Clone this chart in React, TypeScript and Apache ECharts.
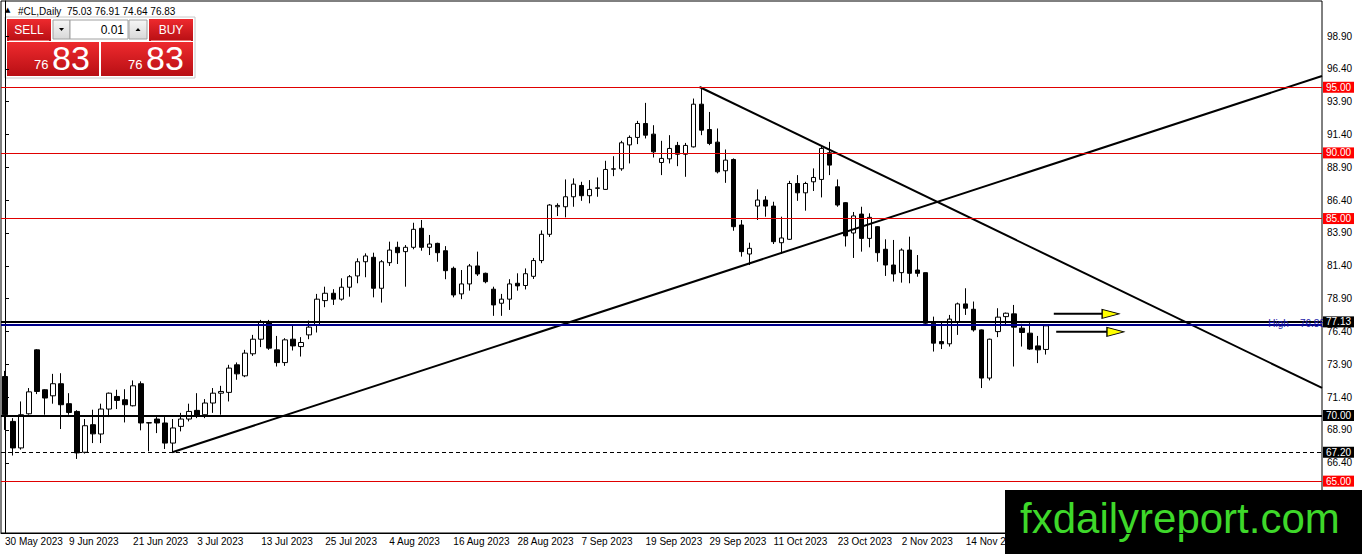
import { useEffect, useRef } from 'react';
import * as echarts from 'echarts';

// daily bars, 30 May 2023 .. 28 Nov 2023
const opens = [
  72.97, 69.55, 67.53, 70.13, 75.0, 71.96, 71.5, 72.42, 70.9, 70.31,
  67.2, 69.3, 68.59, 70.49, 71.45, 71.2, 70.74, 72.42, 69.45, 69.73,
  69.43, 67.9, 69.17, 69.73, 70.39, 70.06, 70.95, 71.7, 71.76, 73.86,
  73.02, 74.7, 75.81, 77.08, 75.0, 74.03, 75.81, 75.25, 76.14, 76.9,
  78.75, 79.31, 78.86, 79.77, 80.63, 81.71, 82.05, 79.69, 81.64, 82.81,
  82.48, 82.81, 84.26, 82.81, 83.11, 82.55, 81.21, 79.26, 80.02, 81.39,
  80.83, 79.62, 78.55, 78.86, 80.07, 79.9, 80.6, 81.8, 83.8, 85.9,
  85.9, 86.66, 87.52, 86.74, 87.3, 87.22, 88.76, 88.79, 90.61, 91.18,
  92.24, 91.43, 89.27, 89.55, 90.57, 89.9, 90.46, 93.71, 91.78, 90.82,
  88.64, 89.5, 84.51, 82.3, 85.95, 86.41, 85.95, 83.16, 83.42, 87.67,
  86.96, 87.8, 87.98, 90.01, 87.42, 86.21, 83.9, 85.34, 83.49, 84.38,
  82.66, 81.46, 80.88, 82.6, 81.08, 80.88, 77.03, 75.63, 75.46, 77.15,
  78.5, 78.09, 76.52, 72.85, 76.39, 77.53, 77.74, 76.65, 76.27, 75.3,
  75.03,
];
const closes = [
  70.06, 67.53, 70.06, 71.8, 71.83, 71.33, 72.42, 70.82, 70.23, 67.15,
  69.22, 68.6, 70.49, 71.7, 71.15, 70.82, 72.26, 69.43, 69.43, 69.43,
  67.9, 69.05, 69.73, 70.31, 69.98, 70.95, 71.7, 71.83, 73.61, 73.17,
  74.75, 75.81, 77.15, 75.13, 74.03, 75.76, 75.3, 75.56, 76.73, 78.86,
  79.31, 78.86, 79.77, 80.57, 81.71, 82.15, 79.69, 81.71, 82.6, 82.4,
  82.81, 84.18, 82.81, 83.06, 82.4, 81.03, 79.18, 80.02, 81.39, 80.78,
  80.19, 78.42, 78.86, 80.02, 79.87, 80.8, 81.8, 83.8, 86.03, 86.0,
  86.66, 87.62, 86.74, 87.22, 87.34, 88.74, 88.79, 90.77, 91.18, 92.24,
  91.35, 90.08, 89.58, 90.34, 89.9, 90.57, 93.71, 91.73, 90.72, 88.56,
  89.45, 84.38, 82.48, 82.73, 86.41, 85.95, 83.24, 83.52, 87.67, 86.96,
  87.67, 88.13, 90.34, 89.07, 86.03, 83.68, 85.2, 83.49, 85.09, 82.4,
  81.46, 80.78, 82.6, 80.83, 80.83, 77.03, 75.51, 75.46, 77.34, 78.5,
  78.17, 76.52, 72.85, 75.81, 77.49, 77.79, 76.73, 76.32, 75.06, 75.0,
  76.83,
];
const lows = [
  68.9, 66.95, 67.4, 70.06, 71.63, 70.06, 70.9, 68.97, 70.06, 66.69,
  67.1, 67.9, 67.9, 69.88, 70.49, 69.47, 70.69, 68.87, 67.27, 68.66,
  67.45, 67.2, 68.79, 69.55, 69.8, 69.8, 70.2, 70.06, 71.07, 72.72,
  72.92, 74.54, 75.21, 75.0, 73.73, 73.78, 74.95, 74.49, 75.81, 76.32,
  78.25, 78.42, 78.75, 79.05, 80.07, 80.53, 79.0, 78.6, 81.39, 81.54,
  79.81, 82.66, 82.55, 82.22, 81.71, 80.38, 79.0, 78.86, 79.51, 80.63,
  80.07, 77.59, 77.59, 78.04, 79.51, 79.6, 80.4, 81.6, 83.6, 85.19,
  85.09, 85.9, 86.35, 86.16, 86.66, 87.2, 88.23, 88.64, 89.2, 90.67,
  91.1, 89.65, 88.31, 89.2, 88.99, 88.18, 90.41, 91.35, 90.59, 88.44,
  87.72, 84.07, 82.1, 81.46, 84.89, 85.14, 83.06, 82.3, 83.37, 86.35,
  85.6, 87.1, 86.61, 88.31, 85.9, 82.87, 82.0, 82.48, 82.81, 81.71,
  80.63, 80.2, 80.12, 80.07, 80.57, 76.98, 74.87, 75.06, 75.25, 76.14,
  77.66, 76.39, 72.09, 72.67, 75.97, 76.9, 73.73, 75.25, 75.0, 73.99,
  74.64,
];
const highs = [
  73.4, 69.8, 71.07, 72.09, 75.05, 72.0, 73.17, 73.22, 71.7, 70.4,
  69.73, 70.44, 70.9, 71.75, 71.96, 72.0, 72.67, 72.6, 69.5, 69.88,
  69.88, 69.73, 70.2, 70.9, 71.7, 71.25, 72.09, 72.26, 73.86, 74.04,
  75.0, 76.14, 77.28, 77.28, 76.06, 75.89, 76.82, 75.97, 77.23, 79.26,
  79.81, 79.62, 80.45, 80.7, 81.97, 82.35, 82.4, 81.84, 83.24, 83.24,
  82.98, 84.68, 84.89, 83.75, 83.16, 82.9, 81.34, 81.08, 81.54, 82.48,
  80.88, 79.81, 79.26, 80.38, 80.83, 81.2, 82.0, 84.1, 86.1, 86.16,
  87.98, 88.06, 87.8, 87.93, 88.13, 89.4, 89.75, 90.92, 91.33, 92.44,
  93.81, 92.11, 90.92, 91.35, 90.84, 90.76, 94.14, 95.03, 93.12, 91.86,
  90.26, 89.58, 84.89, 83.16, 87.22, 86.71, 86.28, 85.14, 87.87, 88.31,
  87.8, 88.82, 90.59, 90.84, 87.98, 86.25, 85.5, 85.9, 85.4, 84.43,
  83.42, 83.37, 82.73, 83.62, 82.22, 80.88, 77.53, 77.15, 77.66, 78.6,
  79.69, 78.68, 76.55, 75.85, 78.17, 77.84, 78.42, 76.98, 77.03, 76.06,
  76.91,
];

// one label every 8 bars
const dateLabels = [
  '30 May 2023', '9 Jun 2023', '21 Jun 2023', '3 Jul 2023', '13 Jul 2023',
  '25 Jul 2023', '4 Aug 2023', '16 Aug 2023', '28 Aug 2023', '7 Sep 2023',
  '19 Sep 2023', '29 Sep 2023', '11 Oct 2023', '23 Oct 2023', '2 Nov 2023',
  '14 Nov 2023',
];
const priceTicks = [
  66.4, 68.9, 71.4, 73.9, 76.4, 78.9, 81.4, 83.9, 86.4, 88.9,
  91.4, 93.9, 96.4, 98.9,
];
const redLevels = [95, 90, 85, 65];
const blackLevels = [70];
const dashedLevels = [67.2];
const resistanceLevel = 77.13;
const highLevel = 76.88;
const bidPrice = 76.83;

// trend lines as [bar, price]
const supportLine = [[20.9, 67.2], [164.5, 95.86]];
const resistanceLine = [[86.75, 95.02], [164.5, 72.1]];
const arrowShafts = [
  [[131, 77.74], [137.1, 77.74]],
  [[131.3, 76.37], [137.7, 76.37]],
];
const arrowHeads = [[138.1, 77.74], [138.7, 76.37]];

const SLOTS = 165;
const FONT = "'Liberation Sans', Arial, sans-serif";

const showLabel = (i: number) => i % 8 === 0 && i / 8 < dateLabels.length;

const levelLabel = (text: string, bg: string, fg = '#fff') => ({
  show: true,
  position: 'end' as const,
  distance: 1,
  formatter: text,
  backgroundColor: bg,
  color: fg,
  fontFamily: FONT,
  fontSize: 10,
  padding: [1, 3, 0, 3],
});

const redGrad = () =>
  new echarts.graphic.LinearGradient(0, 0, 0, 1, [
    { offset: 0, color: '#ee2a2e' },
    { offset: 1, color: '#b80f14' },
  ]);
const greyGrad = () =>
  new echarts.graphic.LinearGradient(0, 0, 0, 1, [
    { offset: 0, color: '#f6f6f6' },
    { offset: 1, color: '#d8d8d8' },
  ]);

const App = () => {
  const chartRef = useRef<HTMLDivElement>(null);

  useEffect(() => {
    if (!chartRef.current) return;
    const chart = echarts.init(chartRef.current, undefined, { renderer: 'svg' });

    const candles = opens.map((o, i) => [o, closes[i], lows[i], highs[i]]);
    const categories = Array.from({ length: SLOTS }, (_, i) => String(i));

    const markData: any[] = [
      ...redLevels.map((v) => ({
        yAxis: v,
        lineStyle: { color: '#e00000', width: 1, type: 'solid' },
        label: levelLabel(v.toFixed(2), '#ff0000'),
      })),
      ...blackLevels.map((v) => ({
        yAxis: v,
        lineStyle: { color: '#000', width: 2, type: 'solid' },
        label: levelLabel(v.toFixed(2), '#000'),
      })),
      ...dashedLevels.map((v) => ({
        yAxis: v,
        lineStyle: { color: '#000', width: 1, type: [4, 3] },
        label: levelLabel(v.toFixed(2), '#000'),
      })),
      {
        yAxis: bidPrice,
        lineStyle: { opacity: 0 },
        label: levelLabel(bidPrice.toFixed(2), 'rgba(0,0,0,0)', '#000'),
      },
      {
        yAxis: highLevel,
        lineStyle: { color: '#00008b', width: 2, type: 'solid' },
        label: {
          show: true,
          position: 'insideEndTop',
          distance: -3,
          formatter: `High    ${highLevel.toFixed(2)}`,
          color: '#1a1aa8',
          fontFamily: FONT,
          fontSize: 10,
        },
      },
      {
        yAxis: resistanceLevel,
        lineStyle: { color: '#000', width: 2, type: 'solid' },
        label: levelLabel(resistanceLevel.toFixed(2), '#000'),
      },
    ];

    const lineSeries = (data: number[][]) => ({
      type: 'line' as const,
      xAxisIndex: 1,
      yAxisIndex: 0,
      data,
      symbol: 'none',
      silent: true,
      lineStyle: { color: '#000', width: 2 },
      z: 3,
    });

    chart.setOption({
      animation: false,
      grid: {
        left: 1,
        right: 40,
        top: 1,
        bottom: 21,
        show: true,
        borderColor: '#000',
        borderWidth: 1,
        backgroundColor: '#fff',
      },
      xAxis: [
        {
          type: 'category',
          data: categories,
          boundaryGap: true,
          axisLine: { lineStyle: { color: '#000', width: 1 } },
          axisTick: {
            alignWithLabel: true,
            interval: (i: number) => showLabel(i),
            length: 4,
            lineStyle: { color: '#000' },
          },
          axisLabel: {
            interval: (i: number) => showLabel(i),
            formatter: (_v: string, i: number) => dateLabels[i / 8] ?? '',
            align: 'left',
            margin: 3,
            color: '#000',
            fontFamily: FONT,
            fontSize: 10,
          },
          splitLine: { show: false },
        },
        {
          type: 'value',
          min: -0.5,
          max: SLOTS - 0.5,
          show: false,
        },
      ],
      yAxis: {
        type: 'value',
        position: 'right',
        min: 61.05,
        max: 101.57,
        scale: true,
        axisLine: { show: true, lineStyle: { color: '#000' } },
        axisTick: { show: true, length: 4, customValues: priceTicks, lineStyle: { color: '#000' } },
        axisLabel: {
          customValues: priceTicks,
          formatter: (v: number) => v.toFixed(2),
          color: '#000',
          fontFamily: FONT,
          fontSize: 10,
          margin: 5,
        },
        splitLine: { show: false },
      },
      series: [
        {
          type: 'candlestick',
          xAxisIndex: 0,
          yAxisIndex: 0,
          data: candles,
          barWidth: 5,
          itemStyle: {
            color: '#fff',
            color0: '#000',
            borderColor: '#000',
            borderColor0: '#000',
            borderWidth: 1,
          },
          markLine: {
            symbol: ['none', 'none'],
            silent: true,
            animation: false,
            data: markData,
          },
          z: 2,
        },
        lineSeries(supportLine),
        lineSeries(resistanceLine),
        ...arrowShafts.map((s) => lineSeries(s)),
        {
          type: 'scatter',
          xAxisIndex: 1,
          yAxisIndex: 0,
          data: arrowHeads,
          symbol: 'triangle',
          symbolRotate: -90,
          symbolSize: [9, 17],
          itemStyle: { color: '#ffff00', borderColor: '#000', borderWidth: 1, opacity: 1 },
          silent: true,
          z: 4,
        },
      ],
      graphic: [
        {
          type: 'text',
          left: 5,
          top: 6,
          style: { text: '▲', fill: '#000', fontSize: 7, fontFamily: 'DejaVu Sans' },
          z: 10,
        },
        {
          type: 'text',
          left: 18,
          top: 6,
          style: {
            text: '#CL,Daily  75.03 76.91 74.64 76.83',
            fill: '#000',
            fontSize: 10,
            fontFamily: FONT,
          },
          z: 10,
        },
        {
          type: 'group',
          z: 10,
          children: [
            { type: 'rect', shape: { x: 5, y: 17, width: 190, height: 61 }, style: { fill: '#fff', stroke: '#c8c8c8' } },
            { type: 'rect', shape: { x: 7, y: 19, width: 44, height: 22 }, style: { fill: redGrad() } },
            { type: 'line', shape: { x1: 9, y1: 40.5, x2: 49, y2: 40.5 }, style: { stroke: '#f07070', lineWidth: 1 } },
            { type: 'text', x: 29, y: 30, style: { text: 'SELL', fill: '#fff', fontSize: 12, fontFamily: FONT, align: 'center', verticalAlign: 'middle' } },
            { type: 'rect', shape: { x: 53, y: 20, width: 17, height: 19 }, style: { fill: greyGrad(), stroke: '#a0a0a0' } },
            { type: 'polygon', shape: { points: [[59, 28], [64, 28], [61.5, 31]] }, style: { fill: '#000' } },
            { type: 'rect', shape: { x: 70, y: 20, width: 58, height: 19 }, style: { fill: '#fff', stroke: '#a0a0a0' } },
            { type: 'text', x: 124, y: 30, style: { text: '0.01', fill: '#000', fontSize: 12, fontFamily: FONT, align: 'right', verticalAlign: 'middle' } },
            { type: 'rect', shape: { x: 129, y: 20, width: 18, height: 19 }, style: { fill: greyGrad(), stroke: '#a0a0a0' } },
            { type: 'polygon', shape: { points: [[135.5, 31], [140.5, 31], [138, 28]] }, style: { fill: '#000' } },
            { type: 'rect', shape: { x: 149, y: 19, width: 44, height: 22 }, style: { fill: redGrad() } },
            { type: 'line', shape: { x1: 151, y1: 40.5, x2: 191, y2: 40.5 }, style: { stroke: '#f07070', lineWidth: 1 } },
            { type: 'text', x: 171, y: 30, style: { text: 'BUY', fill: '#fff', fontSize: 12, fontFamily: FONT, align: 'center', verticalAlign: 'middle' } },
            { type: 'rect', shape: { x: 7, y: 42, width: 92, height: 34 }, style: { fill: redGrad() } },
            { type: 'rect', shape: { x: 101, y: 42, width: 92, height: 34 }, style: { fill: redGrad() } },
            { type: 'text', x: 34, y: 71, style: { text: '76', fill: '#fff', fontSize: 13, fontFamily: FONT, verticalAlign: 'bottom' } },
            { type: 'text', x: 52, y: 75, style: { text: '83', fill: '#fff', fontSize: 34, fontFamily: "'Liberation Sans Narrow', 'Liberation Sans', Arial", verticalAlign: 'bottom' } },
            { type: 'text', x: 128, y: 71, style: { text: '76', fill: '#fff', fontSize: 13, fontFamily: FONT, verticalAlign: 'bottom' } },
            { type: 'text', x: 146, y: 75, style: { text: '83', fill: '#fff', fontSize: 34, fontFamily: "'Liberation Sans Narrow', 'Liberation Sans', Arial", verticalAlign: 'bottom' } },
          ],
        },
        {
          type: 'group',
          z: 20,
          children: [
            { type: 'rect', shape: { x: 1005, y: 490, width: 357, height: 64 }, style: { fill: '#000' } },
            {
              type: 'text',
              x: 1020,
              y: 518,
              style: {
                text: 'fxdailyreport.com',
                fill: '#3ed82a',
                fontSize: 42,
                fontFamily: FONT,
                verticalAlign: 'middle',
              },
            },
          ],
        },
      ],
    });

    return () => {
      chart.dispose();
    };
  }, []);

  return (
    <div
      ref={chartRef}
      style={{ position: 'fixed', left: 0, top: 0, width: '1362px', height: '554px', background: '#fff' }}
    />
  );
};

export default App;
